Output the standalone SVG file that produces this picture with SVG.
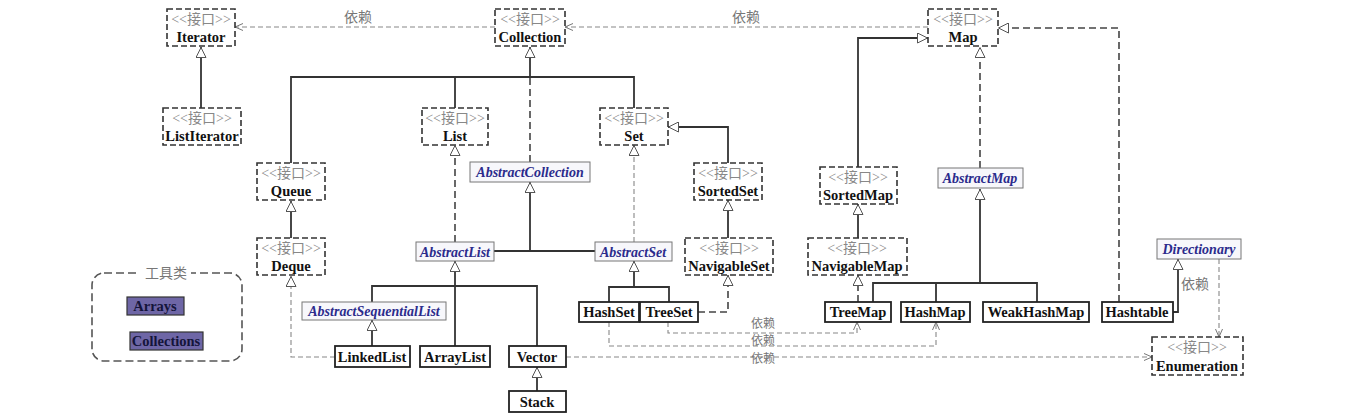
<svg xmlns="http://www.w3.org/2000/svg" width="1345" height="420" viewBox="0 0 1345 420">
<style>
.ibox{fill:#fff;stroke:#333;stroke-width:1.6;stroke-dasharray:6,3}
.abox{fill:#f7f7fb;stroke:#777;stroke-width:1}
.cbox{fill:#fff;stroke:#222;stroke-width:1.8}
.tbox{fill:#6e66a6;stroke:#333;stroke-width:1.2}
.st{font-family:"Liberation Serif","Noto Sans CJK SC",serif;font-size:14px;fill:#888;text-anchor:middle}
.nm{font-family:"Liberation Serif",serif;font-size:14.5px;font-weight:bold;fill:#111;text-anchor:middle}
.ab{font-family:"Liberation Serif",serif;font-size:14px;font-weight:bold;font-style:italic;fill:#2b2b8c;text-anchor:middle}
.tn{font-family:"Liberation Serif",serif;font-size:14.5px;font-weight:bold;fill:#14143a;text-anchor:middle}
.lb{font-family:"Noto Sans CJK SC",sans-serif;font-size:14px;fill:#777;text-anchor:middle}
.lbs{font-family:"Noto Sans CJK SC",sans-serif;font-size:12px;fill:#777;text-anchor:middle}
.sol{fill:none;stroke:#333;stroke-width:1.8}
.real{fill:none;stroke:#444;stroke-width:1.6;stroke-dasharray:7,4}
.reall{fill:none;stroke:#888;stroke-width:1.1;stroke-dasharray:5,3}
.dep{fill:none;stroke:#888;stroke-width:1.1;stroke-dasharray:5,3}
.grp{fill:none;stroke:#555;stroke-width:1.6;stroke-dasharray:8,4}
</style>
<defs>
<marker id="tri" viewBox="0 0 11 11" refX="11" refY="5.5" markerWidth="11" markerHeight="11" markerUnits="userSpaceOnUse" orient="auto"><path d="M0.5,0.5 L10.5,5.5 L0.5,10.5 z" fill="#fff" stroke="#555" stroke-width="1"/></marker>
<marker id="open" viewBox="0 0 8 8" refX="8" refY="4" markerWidth="8" markerHeight="8" markerUnits="userSpaceOnUse" orient="auto"><path d="M0,0.5 L8,4 L0,7.5" fill="none" stroke="#777" stroke-width="1"/></marker>
</defs>
<rect width="1345" height="420" fill="#fff"/>

<g id="connectors">
<!-- dependencies -->
<path class="dep" d="M495,27 H235" marker-end="url(#open)"/>
<path class="dep" d="M928,27 H565" marker-end="url(#open)"/>
<path class="dep" d="M566,357 H1152" marker-end="url(#open)"/>
<path class="dep" d="M668,322 V333 H857 V322" marker-end="url(#open)"/>
<path class="dep" d="M609,322 V346 H936 V322" marker-end="url(#open)"/>
<path class="dep" d="M1219,259 V337" marker-end="url(#open)"/>
<!-- realizations -->
<path class="real" d="M1119,302 V28 H998" marker-end="url(#tri)"/>
<path class="real" d="M530,162 V77"/>
<path class="real" d="M455,242 V145" marker-end="url(#tri)"/>
<path class="reall" d="M634,242 V145" marker-end="url(#tri)"/>
<path class="real" d="M980,168 V47" marker-end="url(#tri)"/>
<path class="reall" d="M335,357 H291 V276" marker-end="url(#tri)"/>
<path class="real" d="M698,312 H728 V275" marker-end="url(#tri)"/>
<path class="real" d="M858,302 V275" marker-end="url(#tri)"/>
<!-- generalizations -->
<path class="sol" d="M201,108 V47" marker-end="url(#tri)"/>
<path class="sol" d="M530,77 V47" marker-end="url(#tri)"/>
<path class="sol" d="M291,163 V77 H634 V108"/>
<path class="sol" d="M455,77 V108"/>
<path class="sol" d="M291,238 V201" marker-end="url(#tri)"/>
<path class="sol" d="M494,251 H595"/>
<path class="sol" d="M530,251 V182" marker-end="url(#tri)"/>
<path class="sol" d="M728,163 V127 H668" marker-end="url(#tri)"/>
<path class="sol" d="M728,238 V200" marker-end="url(#tri)"/>
<path class="sol" d="M634,287 V261" marker-end="url(#tri)"/>
<path class="sol" d="M609,302 V287 H669 V302"/>
<path class="sol" d="M455,286 V261" marker-end="url(#tri)"/>
<path class="sol" d="M372,302 V286 H537 V346"/>
<path class="sol" d="M455,286 V346"/>
<path class="sol" d="M372,346 V320" marker-end="url(#tri)"/>
<path class="sol" d="M537,391 V367" marker-end="url(#tri)"/>
<path class="sol" d="M858,167 V38 H928" marker-end="url(#tri)"/>
<path class="sol" d="M858,238 V204" marker-end="url(#tri)"/>
<path class="sol" d="M980,283 V189" marker-end="url(#tri)"/>
<path class="sol" d="M873,302 V283 H1037 V302"/>
<path class="sol" d="M936,283 V302"/>
<path class="sol" d="M1173,312 H1178 V259" marker-end="url(#tri)"/>
<!-- labels -->
<text class="lb" x="358" y="22">依赖</text>
<text class="lb" x="746" y="22">依赖</text>
<text class="lbs" x="763" y="327.5">依赖</text>
<text class="lbs" x="763" y="345">依赖</text>
<text class="lbs" x="763" y="362.5">依赖</text>
<text class="lb" x="1195" y="289">依赖</text>
</g>

<!-- interfaces -->
<g id="Iterator"><rect class="ibox" x="167" y="9" width="68" height="37"/><text class="st" x="201" y="24">&lt;&lt;接口&gt;&gt;</text><text class="nm" x="201" y="42">Iterator</text></g>
<g id="Collection"><rect class="ibox" x="495" y="9" width="70" height="37"/><text class="st" x="530" y="24">&lt;&lt;接口&gt;&gt;</text><text class="nm" x="530" y="42">Collection</text></g>
<g id="Map"><rect class="ibox" x="928" y="9" width="70" height="37"/><text class="st" x="963" y="24">&lt;&lt;接口&gt;&gt;</text><text class="nm" x="963" y="42">Map</text></g>
<g id="ListIterator"><rect class="ibox" x="163" y="108" width="78" height="37"/><text class="st" x="202" y="123">&lt;&lt;接口&gt;&gt;</text><text class="nm" x="202" y="141">ListIterator</text></g>
<g id="List"><rect class="ibox" x="422" y="108" width="66" height="37"/><text class="st" x="455" y="123">&lt;&lt;接口&gt;&gt;</text><text class="nm" x="455" y="141">List</text></g>
<g id="Set"><rect class="ibox" x="600" y="108" width="68" height="37"/><text class="st" x="634" y="123">&lt;&lt;接口&gt;&gt;</text><text class="nm" x="634" y="141">Set</text></g>
<g id="Queue"><rect class="ibox" x="257" y="163" width="68" height="37"/><text class="st" x="291" y="178">&lt;&lt;接口&gt;&gt;</text><text class="nm" x="291" y="196">Queue</text></g>
<g id="Deque"><rect class="ibox" x="257" y="238" width="68" height="37"/><text class="st" x="291" y="253">&lt;&lt;接口&gt;&gt;</text><text class="nm" x="291" y="271">Deque</text></g>
<g id="SortedSet"><rect class="ibox" x="694" y="163" width="68" height="37"/><text class="st" x="728" y="178">&lt;&lt;接口&gt;&gt;</text><text class="nm" x="728" y="196">SortedSet</text></g>
<g id="NavigableSet"><rect class="ibox" x="685" y="238" width="88" height="37"/><text class="st" x="729" y="253">&lt;&lt;接口&gt;&gt;</text><text class="nm" x="729" y="271">NavigableSet</text></g>
<g id="SortedMap"><rect class="ibox" x="820" y="167" width="77" height="37"/><text class="st" x="858" y="182">&lt;&lt;接口&gt;&gt;</text><text class="nm" x="858" y="200">SortedMap</text></g>
<g id="NavigableMap"><rect class="ibox" x="808" y="238" width="99" height="37"/><text class="st" x="857" y="253">&lt;&lt;接口&gt;&gt;</text><text class="nm" x="857" y="271">NavigableMap</text></g>
<g id="Enumeration"><rect class="ibox" x="1152" y="337" width="91" height="38"/><text class="st" x="1197" y="352">&lt;&lt;接口&gt;&gt;</text><text class="nm" x="1197" y="371">Enumeration</text></g>

<!-- abstract classes -->
<g id="AbstractCollection"><rect class="abox" x="470" y="162" width="120" height="20"/><text class="ab" x="530" y="177">AbstractCollection</text></g>
<g id="AbstractList"><rect class="abox" x="416" y="242" width="78" height="19"/><text class="ab" x="455" y="257">AbstractList</text></g>
<g id="AbstractSet"><rect class="abox" x="595" y="242" width="77" height="19"/><text class="ab" x="633" y="257">AbstractSet</text></g>
<g id="AbstractMap"><rect class="abox" x="938" y="168" width="85" height="20"/><text class="ab" x="980" y="183">AbstractMap</text></g>
<g id="AbstractSequentialList"><rect class="abox" x="302" y="302" width="144" height="18"/><text class="ab" x="374" y="316">AbstractSequentialList</text></g>
<g id="Directionary"><rect class="abox" x="1157" y="239" width="84" height="20"/><text class="ab" x="1199" y="254">Directionary</text></g>

<!-- concrete classes -->
<g id="HashSet"><rect class="cbox" x="579" y="302" width="60" height="20"/><text class="nm" x="609" y="317">HashSet</text></g>
<g id="TreeSet"><rect class="cbox" x="640" y="302" width="58" height="20"/><text class="nm" x="669" y="317">TreeSet</text></g>
<g id="TreeMap"><rect class="cbox" x="825" y="302" width="66" height="20"/><text class="nm" x="858" y="317">TreeMap</text></g>
<g id="HashMap"><rect class="cbox" x="901" y="302" width="69" height="20"/><text class="nm" x="935" y="317">HashMap</text></g>
<g id="WeakHashMap"><rect class="cbox" x="983" y="302" width="106" height="20"/><text class="nm" x="1036" y="317">WeakHashMap</text></g>
<g id="Hashtable"><rect class="cbox" x="1102" y="302" width="71" height="20"/><text class="nm" x="1137" y="317">Hashtable</text></g>
<g id="LinkedList"><rect class="cbox" x="335" y="346" width="75" height="21"/><text class="nm" x="372" y="362">LinkedList</text></g>
<g id="ArrayList"><rect class="cbox" x="420" y="346" width="70" height="21"/><text class="nm" x="455" y="362">ArrayList</text></g>
<g id="Vector"><rect class="cbox" x="509" y="346" width="57" height="21"/><text class="nm" x="537" y="362">Vector</text></g>
<g id="Stack"><rect class="cbox" x="509" y="391" width="57" height="21"/><text class="nm" x="537" y="407">Stack</text></g>

<!-- tool classes group -->
<g id="tools">
<rect class="grp" x="92" y="273" width="150" height="88" rx="12"/>
<rect x="139" y="266" width="52" height="14" fill="#fff"/>
<text class="lb" x="166" y="278">工具类</text>
<g id="Arrays"><rect class="tbox" x="127" y="297" width="57" height="18"/><text class="tn" x="155" y="311">Arrays</text></g>
<g id="Collections"><rect class="tbox" x="130" y="332" width="73" height="18"/><text class="tn" x="166" y="346">Collections</text></g>
</g>
</svg>
